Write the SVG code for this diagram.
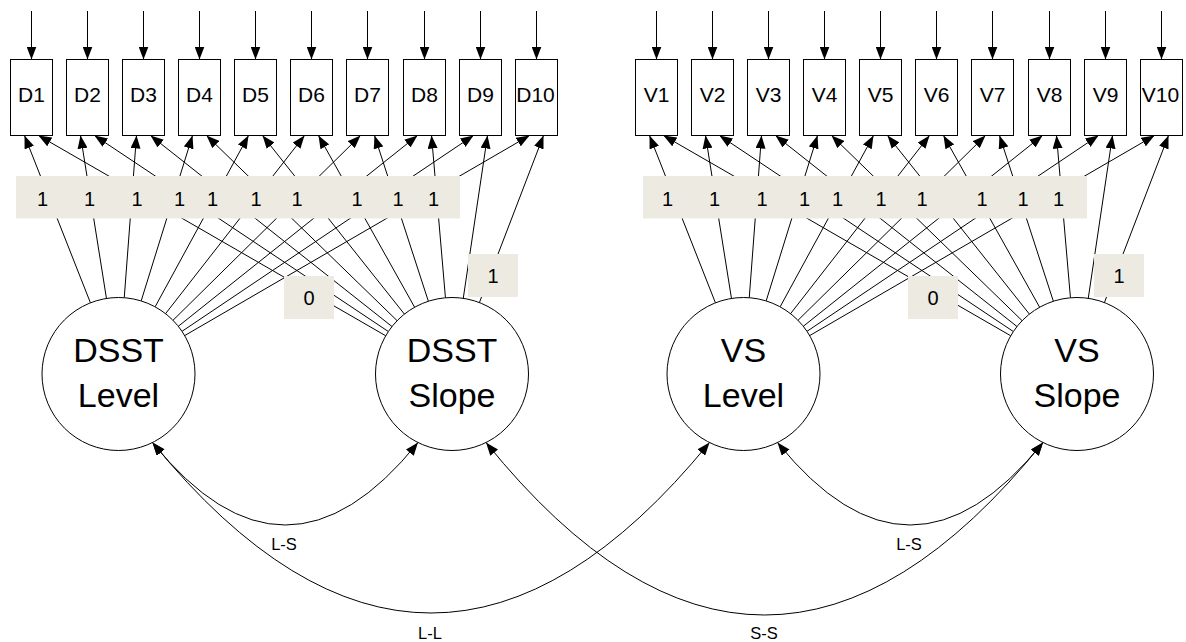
<svg xmlns="http://www.w3.org/2000/svg" width="1186" height="642" viewBox="0 0 1186 642">
  <style>
    .box { fill: #ffffff; stroke: #000000; stroke-width: 1; }
    .lat { fill: #ffffff; stroke: #000000; stroke-width: 1; }
    .ln { stroke: #000000; stroke-width: 1; fill: none; marker-end: url(#ah); }
    .cv { stroke: #000000; stroke-width: 1; fill: none; marker-start: url(#ah2); marker-end: url(#ah2); }
    .bg { fill: #EDEBE1; }
    text { font-family: "Liberation Sans", Arial, sans-serif; fill: #000000; text-anchor: middle; }
    .tb { font-size: 21px; }
    .tn { font-size: 20px; }
    .tl { font-size: 34px; }
    .tc { font-size: 16.5px; }
  </style>
  <defs>
    <marker id="ah" viewBox="0 0 13 10" refX="13" refY="5" markerWidth="13" markerHeight="10" markerUnits="userSpaceOnUse" orient="auto">
      <path d="M0,0 L13,5 L0,10 Z" fill="#000000"/>
    </marker>
    <marker id="ah2" viewBox="0 0 13 10" refX="13" refY="5" markerWidth="13" markerHeight="10" markerUnits="userSpaceOnUse" orient="auto-start-reverse">
      <path d="M0,0 L13,5 L0,10 Z" fill="#000000"/>
    </marker>
  </defs>
  <rect width="1186" height="642" fill="#ffffff"/>

  <!-- connectors -->
  <g id="connectors">
    <!-- residual arrows into the observed measures -->
    <g id="residuals">
      <line class="ln" x1="31.5" y1="11" x2="31.5" y2="59.5"/>
      <line class="ln" x1="87.5" y1="11" x2="87.5" y2="59.5"/>
      <line class="ln" x1="143.5" y1="11" x2="143.5" y2="59.5"/>
      <line class="ln" x1="199.5" y1="11" x2="199.5" y2="59.5"/>
      <line class="ln" x1="255.5" y1="11" x2="255.5" y2="59.5"/>
      <line class="ln" x1="311.5" y1="11" x2="311.5" y2="59.5"/>
      <line class="ln" x1="367.5" y1="11" x2="367.5" y2="59.5"/>
      <line class="ln" x1="424.5" y1="11" x2="424.5" y2="59.5"/>
      <line class="ln" x1="480.5" y1="11" x2="480.5" y2="59.5"/>
      <line class="ln" x1="536.5" y1="11" x2="536.5" y2="59.5"/>
      <line class="ln" x1="656.5" y1="11" x2="656.5" y2="59.5"/>
      <line class="ln" x1="712.5" y1="11" x2="712.5" y2="59.5"/>
      <line class="ln" x1="768.5" y1="11" x2="768.5" y2="59.5"/>
      <line class="ln" x1="824.5" y1="11" x2="824.5" y2="59.5"/>
      <line class="ln" x1="880.5" y1="11" x2="880.5" y2="59.5"/>
      <line class="ln" x1="936.5" y1="11" x2="936.5" y2="59.5"/>
      <line class="ln" x1="992.5" y1="11" x2="992.5" y2="59.5"/>
      <line class="ln" x1="1049.5" y1="11" x2="1049.5" y2="59.5"/>
      <line class="ln" x1="1105.5" y1="11" x2="1105.5" y2="59.5"/>
      <line class="ln" x1="1161.5" y1="11" x2="1161.5" y2="59.5"/>
    </g>
    <!-- DSST level loadings -->
    <g id="dsst-level-loadings">
      <line class="ln" x1="90.45" y1="302.83" x2="24.5" y2="135.5"/>
      <line class="ln" x1="106.46" y1="298.45" x2="80.5" y2="135.5"/>
      <line class="ln" x1="124.26" y1="297.72" x2="136.5" y2="135.5"/>
      <line class="ln" x1="141.17" y1="300.94" x2="192.5" y2="135.5"/>
      <line class="ln" x1="155.11" y1="306.83" x2="248.5" y2="135.5"/>
      <line class="ln" x1="165.55" y1="313.68" x2="304.5" y2="135.5"/>
      <line class="ln" x1="172.99" y1="320.30" x2="360.5" y2="135.5"/>
      <line class="ln" x1="178.31" y1="326.30" x2="417.5" y2="135.5"/>
      <line class="ln" x1="182.00" y1="331.34" x2="473.5" y2="135.5"/>
      <line class="ln" x1="184.67" y1="335.60" x2="529.5" y2="135.5"/>
    </g>
    <!-- DSST slope loadings -->
    <g id="dsst-slope-loadings">
      <line class="ln" x1="385.73" y1="335.78" x2="38.5" y2="135.5"/>
      <line class="ln" x1="388.36" y1="331.54" x2="94.5" y2="135.5"/>
      <line class="ln" x1="392.00" y1="326.54" x2="150.5" y2="135.5"/>
      <line class="ln" x1="397.13" y1="320.70" x2="206.5" y2="135.5"/>
      <line class="ln" x1="404.41" y1="314.11" x2="262.5" y2="135.5"/>
      <line class="ln" x1="414.63" y1="307.25" x2="318.5" y2="135.5"/>
      <line class="ln" x1="428.36" y1="301.25" x2="374.5" y2="135.5"/>
      <line class="ln" x1="445.45" y1="297.78" x2="431.5" y2="135.5"/>
      <line class="ln" x1="463.26" y1="298.33" x2="487.5" y2="135.5"/>
      <line class="ln" x1="479.40" y1="302.58" x2="543.5" y2="135.5"/>
    </g>
    <!-- VS level loadings -->
    <g id="vs-level-loadings">
      <line class="ln" x1="715.45" y1="302.83" x2="649.5" y2="135.5"/>
      <line class="ln" x1="731.46" y1="298.45" x2="705.5" y2="135.5"/>
      <line class="ln" x1="749.26" y1="297.72" x2="761.5" y2="135.5"/>
      <line class="ln" x1="766.17" y1="300.94" x2="817.5" y2="135.5"/>
      <line class="ln" x1="780.11" y1="306.83" x2="873.5" y2="135.5"/>
      <line class="ln" x1="790.55" y1="313.68" x2="929.5" y2="135.5"/>
      <line class="ln" x1="797.99" y1="320.30" x2="985.5" y2="135.5"/>
      <line class="ln" x1="803.31" y1="326.30" x2="1042.5" y2="135.5"/>
      <line class="ln" x1="807.00" y1="331.34" x2="1098.5" y2="135.5"/>
      <line class="ln" x1="809.67" y1="335.60" x2="1154.5" y2="135.5"/>
    </g>
    <!-- VS slope loadings -->
    <g id="vs-slope-loadings">
      <line class="ln" x1="1010.73" y1="335.78" x2="663.5" y2="135.5"/>
      <line class="ln" x1="1013.36" y1="331.54" x2="719.5" y2="135.5"/>
      <line class="ln" x1="1017.00" y1="326.54" x2="775.5" y2="135.5"/>
      <line class="ln" x1="1022.13" y1="320.70" x2="831.5" y2="135.5"/>
      <line class="ln" x1="1029.41" y1="314.11" x2="887.5" y2="135.5"/>
      <line class="ln" x1="1039.63" y1="307.25" x2="943.5" y2="135.5"/>
      <line class="ln" x1="1053.36" y1="301.25" x2="999.5" y2="135.5"/>
      <line class="ln" x1="1070.45" y1="297.78" x2="1056.5" y2="135.5"/>
      <line class="ln" x1="1088.26" y1="298.33" x2="1112.5" y2="135.5"/>
      <line class="ln" x1="1104.40" y1="302.58" x2="1168.5" y2="135.5"/>
    </g>
    <!-- covariances between growth factors -->
    <g id="covariances">
      <path class="cv" d="M152.5,442.5 Q285.25,607.5 418,442.5"/>
      <path class="cv" d="M152.5,442.5 Q431,783.5 709.5,442.5"/>
      <path class="cv" d="M486,442.5 Q764.5,787.5 1043,442.5"/>
      <path class="cv" d="M777.5,442.5 Q910.25,607.5 1043,442.5"/>
      <text class="tc" x="284" y="550">L-S</text>
      <text class="tc" x="430" y="639">L-L</text>
      <text class="tc" x="764" y="639">S-S</text>
      <text class="tc" x="909" y="550">L-S</text>
    </g>
  </g>

  <!-- fixed loading values -->
  <g id="loading-labels">
    <rect class="bg" x="16" y="176" width="444" height="42.5"/>
    <text class="tn" x="42.5" y="206">1</text>
    <text class="tn" x="89.5" y="206">1</text>
    <text class="tn" x="137" y="206">1</text>
    <text class="tn" x="179.5" y="206">1</text>
    <text class="tn" x="212.5" y="206">1</text>
    <text class="tn" x="256" y="206">1</text>
    <text class="tn" x="297" y="206">1</text>
    <text class="tn" x="357" y="206">1</text>
    <text class="tn" x="398" y="206">1</text>
    <text class="tn" x="433.5" y="206">1</text>
    <rect class="bg" x="284" y="276" width="50" height="43"/>
    <text class="tn" x="309" y="304.5">0</text>
    <rect class="bg" x="468" y="254" width="50" height="43"/>
    <text class="tn" x="493" y="282.5">1</text>

    <rect class="bg" x="643" y="176" width="444" height="42.5"/>
    <text class="tn" x="667.5" y="206">1</text>
    <text class="tn" x="714.5" y="206">1</text>
    <text class="tn" x="762" y="206">1</text>
    <text class="tn" x="804.5" y="206">1</text>
    <text class="tn" x="837.5" y="206">1</text>
    <text class="tn" x="881" y="206">1</text>
    <text class="tn" x="922" y="206">1</text>
    <text class="tn" x="982" y="206">1</text>
    <text class="tn" x="1023" y="206">1</text>
    <text class="tn" x="1058.5" y="206">1</text>
    <rect class="bg" x="908" y="276" width="50" height="43"/>
    <text class="tn" x="933" y="304.5">0</text>
    <rect class="bg" x="1094" y="254" width="50" height="43"/>
    <text class="tn" x="1119" y="282.5">1</text>
  </g>

  <!-- observed measures -->
  <g id="D1"><rect class="box" x="10.5" y="59.5" width="42" height="76"/><text class="tb" x="31.5" y="102">D1</text></g>
  <g id="D2"><rect class="box" x="66.5" y="59.5" width="42" height="76"/><text class="tb" x="87.5" y="102">D2</text></g>
  <g id="D3"><rect class="box" x="122.5" y="59.5" width="42" height="76"/><text class="tb" x="143.5" y="102">D3</text></g>
  <g id="D4"><rect class="box" x="178.5" y="59.5" width="42" height="76"/><text class="tb" x="199.5" y="102">D4</text></g>
  <g id="D5"><rect class="box" x="234.5" y="59.5" width="42" height="76"/><text class="tb" x="255.5" y="102">D5</text></g>
  <g id="D6"><rect class="box" x="290.5" y="59.5" width="42" height="76"/><text class="tb" x="311.5" y="102">D6</text></g>
  <g id="D7"><rect class="box" x="346.5" y="59.5" width="42" height="76"/><text class="tb" x="367.5" y="102">D7</text></g>
  <g id="D8"><rect class="box" x="403.5" y="59.5" width="42" height="76"/><text class="tb" x="424.5" y="102">D8</text></g>
  <g id="D9"><rect class="box" x="459.5" y="59.5" width="42" height="76"/><text class="tb" x="480.5" y="102">D9</text></g>
  <g id="D10"><rect class="box" x="515.5" y="59.5" width="42" height="76"/><text class="tb" x="535.5" y="102">D10</text></g>

  <g id="V1"><rect class="box" x="635.5" y="59.5" width="42" height="76"/><text class="tb" x="656.5" y="102">V1</text></g>
  <g id="V2"><rect class="box" x="691.5" y="59.5" width="42" height="76"/><text class="tb" x="712.5" y="102">V2</text></g>
  <g id="V3"><rect class="box" x="747.5" y="59.5" width="42" height="76"/><text class="tb" x="768.5" y="102">V3</text></g>
  <g id="V4"><rect class="box" x="803.5" y="59.5" width="42" height="76"/><text class="tb" x="824.5" y="102">V4</text></g>
  <g id="V5"><rect class="box" x="859.5" y="59.5" width="42" height="76"/><text class="tb" x="880.5" y="102">V5</text></g>
  <g id="V6"><rect class="box" x="915.5" y="59.5" width="42" height="76"/><text class="tb" x="936.5" y="102">V6</text></g>
  <g id="V7"><rect class="box" x="971.5" y="59.5" width="42" height="76"/><text class="tb" x="992.5" y="102">V7</text></g>
  <g id="V8"><rect class="box" x="1028.5" y="59.5" width="42" height="76"/><text class="tb" x="1049.5" y="102">V8</text></g>
  <g id="V9"><rect class="box" x="1084.5" y="59.5" width="42" height="76"/><text class="tb" x="1105.5" y="102">V9</text></g>
  <g id="V10"><rect class="box" x="1140.5" y="59.5" width="42" height="76"/><text class="tb" x="1160.5" y="102">V10</text></g>

  <!-- latent growth factors -->
  <g id="DSST-Level"><circle class="lat" cx="118.5" cy="374" r="76.5"/><text class="tl" x="118.5" y="362">DSST</text><text class="tl" x="118.5" y="407">Level</text></g>
  <g id="DSST-Slope"><circle class="lat" cx="452" cy="374" r="76.5"/><text class="tl" x="452" y="362">DSST</text><text class="tl" x="452" y="407">Slope</text></g>
  <g id="VS-Level"><circle class="lat" cx="743.5" cy="374" r="76.5"/><text class="tl" x="743.5" y="362">VS</text><text class="tl" x="743.5" y="407">Level</text></g>
  <g id="VS-Slope"><circle class="lat" cx="1077" cy="374" r="76.5"/><text class="tl" x="1077" y="362">VS</text><text class="tl" x="1077" y="407">Slope</text></g>
</svg>
